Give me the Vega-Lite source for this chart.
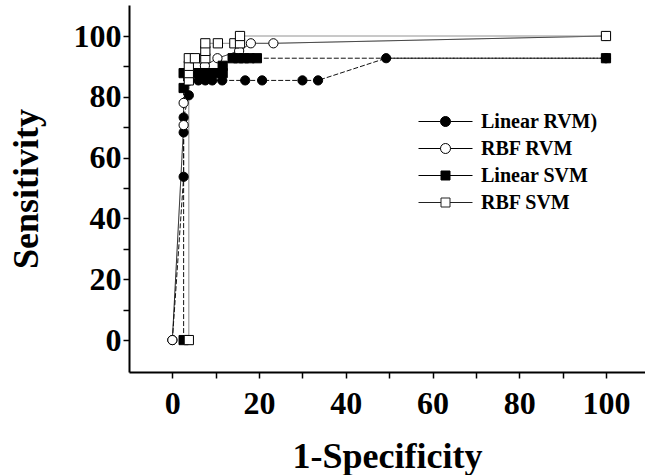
{
  "$schema": "https://vega.github.io/schema/vega-lite/v6.json",
  "autosize": "none",
  "width": 516,
  "height": 367,
  "padding": {"left": 129, "top": 5, "right": 0, "bottom": 103},
  "background": "white",
  "config": {
    "view": {"stroke": null},
    "axis": {
      "grid": false,
      "domainColor": "black",
      "domainWidth": 2,
      "tickColor": "black",
      "tickWidth": 1.5,
      "tickSize": 6,
      "labelFont": "Liberation Serif",
      "labelFontWeight": "bold",
      "labelFontSize": 32,
      "labelColor": "black",
      "titleFont": "Liberation Serif",
      "titleFontWeight": "bold",
      "titleFontSize": 36,
      "titleColor": "black"
    },
    "legend": {
      "title": null,
      "orient": "none",
      "legendX": 306,
      "legendY": 106,
      "padding": 0,
      "symbolSize": 400,
      "symbolStrokeWidth": 1,
      "symbolOpacity": 1,
      "labelFont": "Liberation Serif",
      "labelFontWeight": "bold",
      "labelFontSize": 20,
      "labelColor": "black",
      "labelOffset": 25,
      "rowPadding": 6,
      "labelLimit": 300
    }
  },
  "data": {
    "values": [
      {"s": "Linear RVM)", "i": 0, "x": 0, "y": 0},
      {"s": "Linear RVM)", "i": 1, "x": 2.6, "y": 53.7},
      {"s": "Linear RVM)", "i": 2, "x": 2.6, "y": 68.3},
      {"s": "Linear RVM)", "i": 3, "x": 2.6, "y": 73.2},
      {"s": "Linear RVM)", "i": 4, "x": 3.8, "y": 80.5},
      {"s": "Linear RVM)", "i": 5, "x": 3.8, "y": 85.4},
      {"s": "Linear RVM)", "i": 6, "x": 6.0, "y": 85.4},
      {"s": "Linear RVM)", "i": 7, "x": 7.6, "y": 85.4},
      {"s": "Linear RVM)", "i": 8, "x": 9.2, "y": 85.4},
      {"s": "Linear RVM)", "i": 9, "x": 11.5, "y": 85.4},
      {"s": "Linear RVM)", "i": 10, "x": 16.8, "y": 85.4},
      {"s": "Linear RVM)", "i": 11, "x": 20.7, "y": 85.4},
      {"s": "Linear RVM)", "i": 12, "x": 30.0, "y": 85.4},
      {"s": "Linear RVM)", "i": 13, "x": 33.6, "y": 85.4},
      {"s": "Linear RVM)", "i": 14, "x": 49.3, "y": 92.7},
      {"s": "Linear RVM)", "i": 15, "x": 100, "y": 92.7},
      {"s": "RBF RVM", "i": 0, "x": 0, "y": 0},
      {"s": "RBF RVM", "i": 1, "x": 2.6, "y": 70.7},
      {"s": "RBF RVM", "i": 2, "x": 2.6, "y": 78.0},
      {"s": "RBF RVM", "i": 3, "x": 3.8, "y": 85.4},
      {"s": "RBF RVM", "i": 4, "x": 3.8, "y": 87.8},
      {"s": "RBF RVM", "i": 5, "x": 5.5, "y": 90.2},
      {"s": "RBF RVM", "i": 6, "x": 7.5, "y": 90.2},
      {"s": "RBF RVM", "i": 7, "x": 10.4, "y": 92.7},
      {"s": "RBF RVM", "i": 8, "x": 15.4, "y": 95.1},
      {"s": "RBF RVM", "i": 9, "x": 18.1, "y": 97.6},
      {"s": "RBF RVM", "i": 10, "x": 23.3, "y": 97.6},
      {"s": "RBF RVM", "i": 11, "x": 100, "y": 100},
      {"s": "Linear SVM", "i": 0, "x": 2.6, "y": 0},
      {"s": "Linear SVM", "i": 1, "x": 2.6, "y": 82.9},
      {"s": "Linear SVM", "i": 2, "x": 2.6, "y": 87.8},
      {"s": "Linear SVM", "i": 3, "x": 3.8, "y": 87.8},
      {"s": "Linear SVM", "i": 4, "x": 5.1, "y": 87.8},
      {"s": "Linear SVM", "i": 5, "x": 6.4, "y": 87.8},
      {"s": "Linear SVM", "i": 6, "x": 7.7, "y": 87.8},
      {"s": "Linear SVM", "i": 7, "x": 9.0, "y": 87.8},
      {"s": "Linear SVM", "i": 8, "x": 10.3, "y": 87.8},
      {"s": "Linear SVM", "i": 9, "x": 11.6, "y": 87.8},
      {"s": "Linear SVM", "i": 10, "x": 11.6, "y": 90.2},
      {"s": "Linear SVM", "i": 11, "x": 13.9, "y": 92.7},
      {"s": "Linear SVM", "i": 12, "x": 15.2, "y": 92.7},
      {"s": "Linear SVM", "i": 13, "x": 16.5, "y": 92.7},
      {"s": "Linear SVM", "i": 14, "x": 17.8, "y": 92.7},
      {"s": "Linear SVM", "i": 15, "x": 19.5, "y": 92.7},
      {"s": "Linear SVM", "i": 16, "x": 100, "y": 92.7},
      {"s": "RBF SVM", "i": 0, "x": 3.8, "y": 0},
      {"s": "RBF SVM", "i": 1, "x": 3.8, "y": 85.4},
      {"s": "RBF SVM", "i": 2, "x": 3.8, "y": 87.8},
      {"s": "RBF SVM", "i": 3, "x": 3.8, "y": 90.2},
      {"s": "RBF SVM", "i": 4, "x": 3.8, "y": 92.7},
      {"s": "RBF SVM", "i": 5, "x": 5.2, "y": 92.7},
      {"s": "RBF SVM", "i": 6, "x": 7.6, "y": 92.7},
      {"s": "RBF SVM", "i": 7, "x": 7.6, "y": 95.1},
      {"s": "RBF SVM", "i": 8, "x": 7.6, "y": 97.6},
      {"s": "RBF SVM", "i": 9, "x": 10.5, "y": 97.6},
      {"s": "RBF SVM", "i": 10, "x": 14.3, "y": 97.6},
      {"s": "RBF SVM", "i": 11, "x": 15.6, "y": 97.6},
      {"s": "RBF SVM", "i": 12, "x": 15.6, "y": 100},
      {"s": "RBF SVM", "i": 13, "x": 100, "y": 100}
    ]
  },
  "encoding": {
    "x": {
      "field": "x", "type": "quantitative",
      "scale": {"domain": [-10, 109], "nice": false, "zero": false},
      "axis": {
        "values": [0, 10, 20, 30, 40, 50, 60, 70, 80, 90, 100],
        "labelExpr": "datum.value % 20 == 0 ? datum.label : ''",
        "labelPadding": 10,
        "title": "1-Specificity",
        "titlePadding": 20
      }
    },
    "y": {
      "field": "y", "type": "quantitative",
      "scale": {"domain": [-10.5, 110.2], "nice": false, "zero": false},
      "axis": {
        "values": [0, 10, 20, 30, 40, 50, 60, 70, 80, 90, 100],
        "labelExpr": "datum.value % 20 == 0 ? datum.label : ''",
        "labelPadding": 2,
        "title": "Sensitivity",
        "titlePadding": 28
      }
    }
  },
  "layer": [
    {
      "mark": {"type": "line", "strokeWidth": 1},
      "encoding": {
        "detail": {"field": "s", "type": "nominal"},
        "order": {"field": "i", "type": "quantitative"},
        "stroke": {
          "condition": {"test": "datum.s == 'RBF SVM'", "value": "#888888"},
          "value": "#111111"
        },
        "strokeDash": {
          "condition": {"test": "datum.s == 'Linear RVM)' || datum.s == 'Linear SVM'", "value": [5, 2]},
          "value": [1, 0]
        }
      }
    },
    {
      "mark": {"type": "point", "filled": true, "stroke": "black", "strokeWidth": 1, "opacity": 1, "size": 85},
      "encoding": {
        "fill": {
          "condition": {"test": "datum.s == 'RBF RVM' || datum.s == 'RBF SVM'", "value": "white"},
          "value": "black"
        },
        "shape": {
          "condition": {"test": "datum.s == 'Linear RVM)' || datum.s == 'RBF RVM'", "value": "circle"},
          "value": "square"
        }
      }
    },
    {
      "transform": [{"filter": "datum.i < 0"}],
      "mark": {"type": "point", "filled": true, "strokeWidth": 1, "opacity": 1},
      "encoding": {
        "shape": {
          "field": "s", "type": "nominal",
          "scale": {
            "domain": ["Linear RVM)", "RBF RVM", "Linear SVM", "RBF SVM"],
            "range": [
              "M-2.7,0H-0.5M0.5,0H2.7M-0.5,0A0.5,0.5,0,1,1,0.5,0A0.5,0.5,0,1,1,-0.5,0Z",
              "M-2.7,0H-0.5M0.5,0H2.7M-0.5,0A0.5,0.5,0,1,1,0.5,0A0.5,0.5,0,1,1,-0.5,0Z",
              "M-2.7,0H-0.45M0.45,0H2.7M-0.45,-0.45H0.45V0.45H-0.45Z",
              "M-2.7,0H-0.45M0.45,0H2.7M-0.45,-0.45H0.45V0.45H-0.45Z"
            ]
          }
        },
        "fill": {
          "field": "s", "type": "nominal",
          "scale": {
            "domain": ["Linear RVM)", "RBF RVM", "Linear SVM", "RBF SVM"],
            "range": ["black", "white", "black", "white"]
          }
        },
        "stroke": {
          "field": "s", "type": "nominal",
          "scale": {
            "domain": ["Linear RVM)", "RBF RVM", "Linear SVM", "RBF SVM"],
            "range": ["black", "black", "black", "#222222"]
          }
        }
      }
    }
  ]
}
